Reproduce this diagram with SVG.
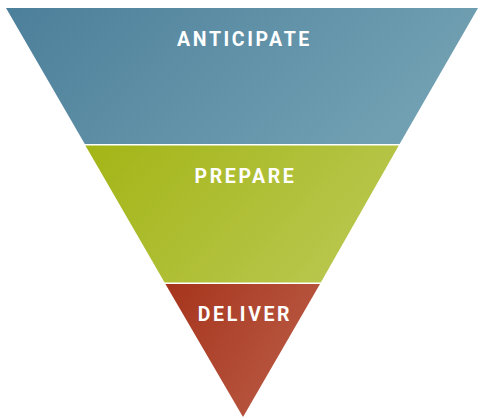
<svg xmlns="http://www.w3.org/2000/svg" width="478" height="418" viewBox="0 0 478 418">
<defs>
<linearGradient id="gb" x1="0" y1="0" x2="1" y2="0.3"><stop offset="0" stop-color="#4c7f9a"/><stop offset="1" stop-color="#71a0b2"/></linearGradient>
<linearGradient id="gg" x1="0" y1="0" x2="1" y2="0.4"><stop offset="0" stop-color="#a3b516"/><stop offset="1" stop-color="#b8c64c"/></linearGradient>
<linearGradient id="gr" x1="0" y1="0" x2="1" y2="0.5"><stop offset="0" stop-color="#a6341c"/><stop offset="1" stop-color="#b95943"/></linearGradient>
<style>
text{font-family:"Roboto","Liberation Sans",sans-serif;font-weight:bold;font-size:19.5px;fill:#fff;text-anchor:middle;letter-spacing:2.6px}
</style>
</defs>
<g id="anticipate">
<polygon points="6,8 478,8 399.6,144 84.8,144" fill="url(#gb)"/>
<text x="244.5" y="45.5">ANTICIPATE</text>
</g>
<g id="prepare">
<polygon points="85.4,145.5 398.8,145.5 320.8,282.5 164.6,282.5" fill="url(#gg)"/>
<text x="245.5" y="183">PREPARE</text>
</g>
<g id="deliver">
<polygon points="165.4,284 320,284 243,417" fill="url(#gr)"/>
<text x="245" y="321">DELIVER</text>
</g>
<g id="connectors"/>
</svg>
